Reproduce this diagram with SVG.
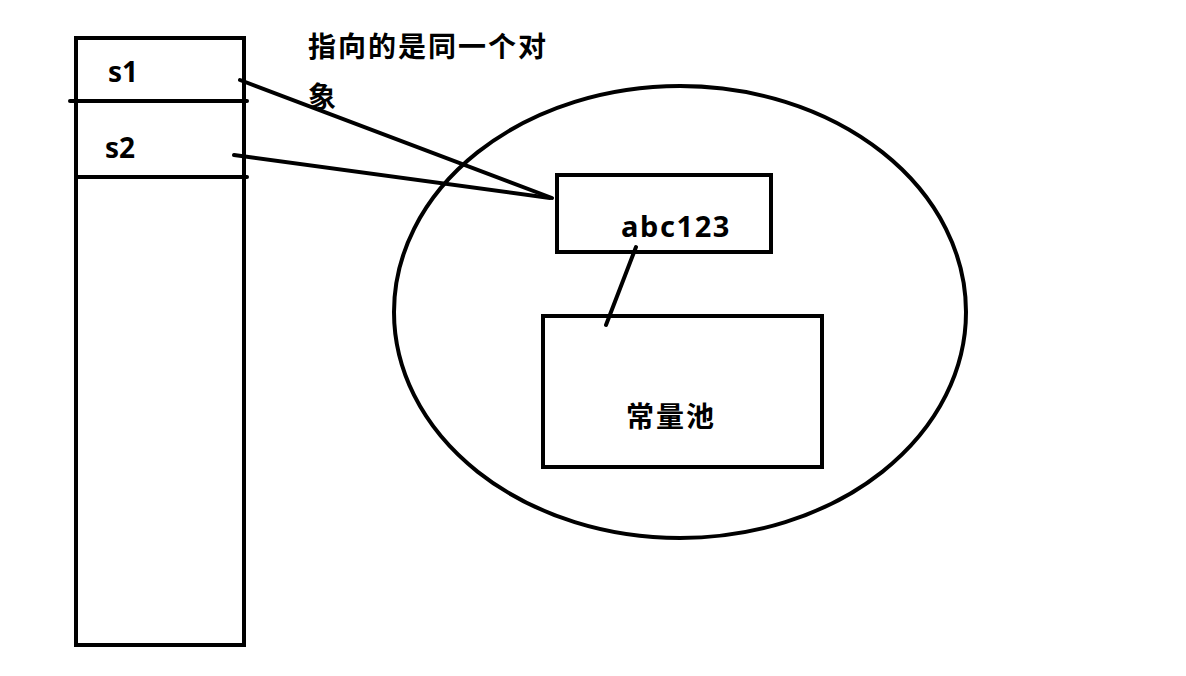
<svg xmlns="http://www.w3.org/2000/svg" width="1186" height="676" viewBox="0 0 1186 676">
<style>
.s{fill:none;stroke:#000;stroke-width:4;stroke-linecap:round}
.t{font-family:"Noto Sans","Noto Sans CJK SC",sans-serif;font-weight:bold;fill:#000}
.c{font-family:"Noto Sans CJK SC",sans-serif;font-weight:bold;fill:#000;font-size:28px;letter-spacing:2px}
</style>
<rect width="1186" height="676" fill="#fff"/>
<g id="stack">
<rect class="s" x="76" y="38" width="168" height="607" stroke-linecap="butt"/>
<line class="s" x1="70" y1="101" x2="247" y2="101"/>
<line class="s" x1="77" y1="177" x2="247" y2="177"/>
<text class="t" x="108" y="82" font-size="28">s1</text>
<text class="t" x="105" y="158" font-size="28">s2</text>
</g>
<g id="heap">
<ellipse class="s" cx="680" cy="312" rx="286" ry="226"/>
</g>
<g id="abc">
<rect class="s" x="557" y="175" width="214" height="77" stroke-linecap="butt"/>
<text class="t" x="621" y="237" font-size="29" letter-spacing="1.6">abc123</text>
</g>
<g id="pool">
<rect class="s" x="543" y="316" width="279" height="151" stroke-linecap="butt"/>
<text class="c" x="626" y="427">常量池</text>
</g>
<g id="note">
<text class="c" x="308" y="57">指向的是同一个对</text>
<text class="c" x="308" y="107">象</text>
</g>
<g id="connectors">
<line class="s" x1="240" y1="80" x2="552" y2="198"/>
<line class="s" x1="234" y1="155" x2="550" y2="198"/>
<line class="s" x1="636" y1="247" x2="606" y2="325"/>
</g>
</svg>
